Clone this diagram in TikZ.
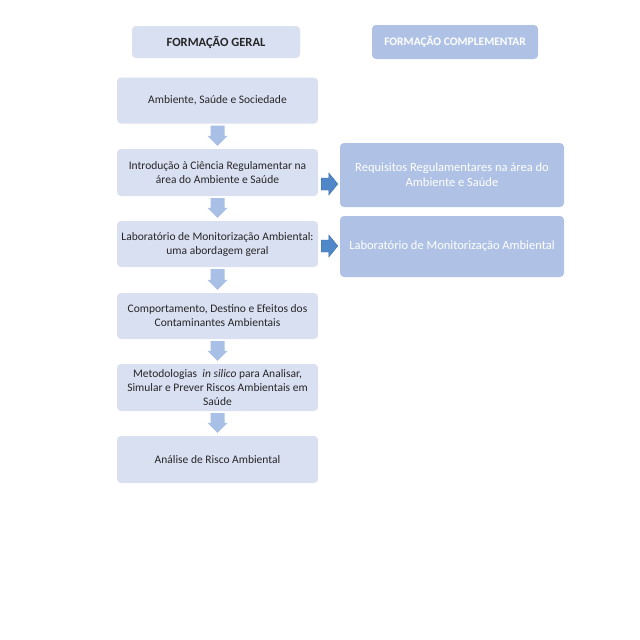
\documentclass[tikz,border=0pt]{standalone}
\usepackage{fontspec}
\setmainfont{Carlito}
\usetikzlibrary{calc}
\definecolor{boxfill}{HTML}{D9E0F2}
\definecolor{compfill}{HTML}{AFC2E6}
\definecolor{downarr}{HTML}{A9C0E6}
\definecolor{rightarr}{HTML}{4F87C8}
\definecolor{rightedge}{HTML}{3B6FAE}
\definecolor{txt}{HTML}{262626}
\begin{document}
\begin{tikzpicture}[x=1pt,y=-1pt,
  box/.style={fill=boxfill,rounded corners=4pt,draw=none,text=txt,font=\fontsize{11.5}{14}\selectfont,align=center},
  comp/.style={fill=compfill,rounded corners=4pt,draw=none,text=white,font=\fontsize{12.5}{15}\selectfont,align=center},
  darrow/.style={fill=downarr,draw=none},
  rarrow/.style={fill=rightarr,draw=rightedge,line width=0.4pt}]
\useasboundingbox[fill=white] (0,0) rectangle (640,640);
% headers
\node[box,font=\fontsize{12.5}{14}\selectfont\bfseries,minimum width=168pt,minimum height=32pt] (h1) at (216,42) {FORMAÇÃO GERAL};
\node[comp,font=\fontsize{11.5}{14}\selectfont\bfseries,minimum width=166pt,minimum height=34pt] (h2) at (455,42) {FORMAÇÃO COMPLEMENTAR};
% left column
\node[box,minimum width=201pt,minimum height=46pt] (b1) at (217.5,100.5) {Ambiente, Saúde e Sociedade};
\node[box,minimum width=201pt,minimum height=47pt] (b2) at (217.5,172.5) {Introdução à Ciência Regulamentar na\\área do Ambiente e Saúde};
\node[box,minimum width=201pt,minimum height=46pt] (b3) at (217.5,244) {Laboratório de Monitorização Ambiental:\\uma abordagem geral};
\node[box,minimum width=201pt,minimum height=46pt] (b4) at (217.5,316) {Comportamento, Destino e Efeitos dos\\Contaminantes Ambientais};
\node[box,minimum width=201pt,minimum height=47pt] (b5) at (217.5,387.5) {Metodologias \ \textit{in silico} para Analisar,\\Simular e Prever Riscos Ambientais em\\Saúde};
\node[box,minimum width=201pt,minimum height=47pt] (b6) at (217.5,459.5) {Análise de Risco Ambiental};
% right column
\node[comp,minimum width=224pt,minimum height=64pt] (c1) at (452,175) {Requisitos Regulamentares na área do\\Ambiente e Saúde};
\node[comp,minimum width=224pt,minimum height=61pt] (c2) at (452,246.5) {Laboratório de Monitorização Ambiental};
% down arrows
\foreach \a/\b in {b1/b2,b2/b3,b3/b4,b4/b5,b5/b6}{
  \path (\a.south) ++(0,2) coordinate (s) (\b.north) ++(0,-3) coordinate (e);
  \fill[darrow] ($(s)+(-7,0)$) -- ($(s)+(7,0)$) -- ($(e)+(7,-10)$) -- ($(e)+(10,-10)$) -- (e) -- ($(e)+(-10,-10)$) -- ($(e)+(-7,-10)$) -- cycle;
}
% right arrows
\foreach \a/\b/\y in {b2/c1/184,b3/c2/246}{
  \path (\a.east |- 0,\y) ++(3,0) coordinate (s) (\b.west |- 0,\y) ++(-2,0) coordinate (e);
  \draw[rarrow] ($(s)+(0,-6)$) -- ($(e)+(-9,-6)$) -- ($(e)+(-9,-11)$) -- (e) -- ($(e)+(-9,11)$) -- ($(e)+(-9,6)$) -- ($(s)+(0,6)$) -- cycle;
}
\end{tikzpicture}
\end{document}
